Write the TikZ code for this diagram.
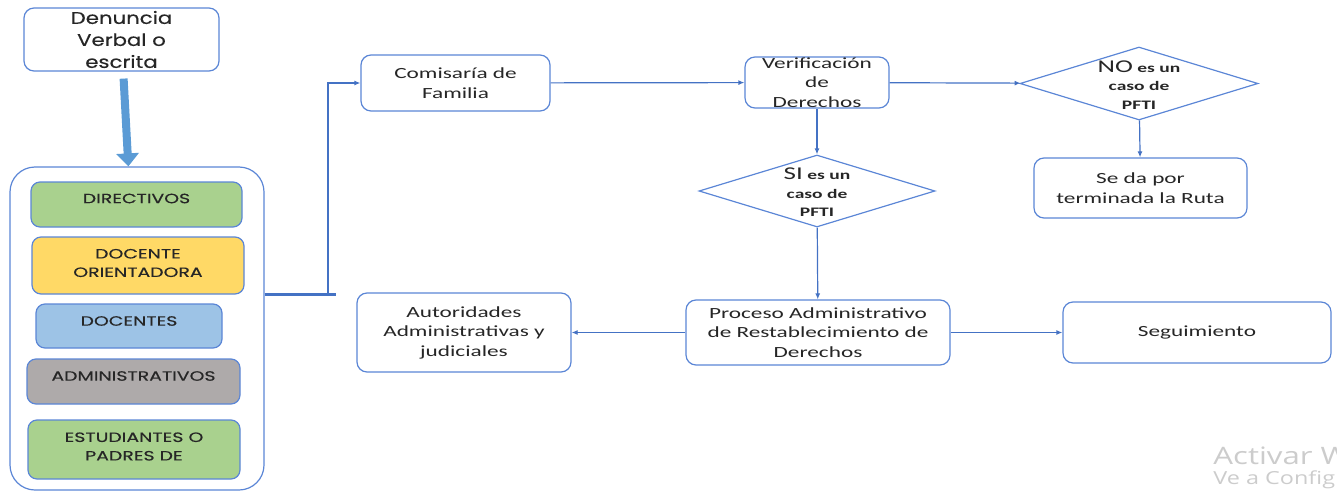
\documentclass[tikz,border=0pt]{standalone}
\usepackage{fontspec}
\setmainfont{Carlito}
\newfontfamily\boxfont[FakeStretch=1.5]{Carlito}
\newfontfamily\gothicfont[FakeStretch=1.4,FakeBold=0.3]{Poppins}
\newfontfamily\denunciafont[FakeStretch=1.25,FakeBold=0.3]{Poppins}
\newfontfamily\markfont[FakeStretch=1.3]{Open Sans}
\usetikzlibrary{shapes.geometric,arrows.meta,positioning}
\definecolor{lineblue}{HTML}{4472C4}
\definecolor{boxblue}{HTML}{5B86D6}
\definecolor{arrowblue}{HTML}{5B9BD5}
\definecolor{dirgreen}{HTML}{A9D18E}
\definecolor{orientyellow}{HTML}{FFD966}
\definecolor{docblue}{HTML}{9DC3E6}
\definecolor{admgray}{HTML}{AEAAAA}

\begin{document}
\begin{tikzpicture}[x=1pt,y=-1pt,->,>={Latex[length=6pt,width=5pt]},thick,
    box node/.style={draw=boxblue,line width=1.2pt,rounded corners=10pt,fill=white,align=center,inner sep=2pt,text=black!85,font=\boxfont\fontsize{15.5}{19.5}\selectfont},
    level node/.style={draw=boxblue,line width=1.2pt,rounded corners=9pt,inner sep=0pt},
    level text/.style={align=center,inner sep=0pt,text=black!85,font=\gothicfont\fontsize{13.5}{18.5}\selectfont},
    choice node/.style={diamond,draw=boxblue,line width=1.2pt,inner sep=0pt},
    choice text/.style={align=center,inner sep=0pt,text=black!85,font=\boxfont\bfseries\fontsize{13}{18.5}\selectfont},
    link/.style={draw=lineblue,line width=1.2pt}]
                \useasboundingbox (0,0) rectangle (1337,492);
                % left column
                \node[box node,minimum width=195pt,minimum height=63pt,font=\denunciafont\fontsize{17}{22}\selectfont] (denuncia) at (121.5,39.5) {Denuncia\\Verbal o\\escrita};
                \node[level node,rounded corners=25pt,minimum width=254pt,minimum height=323pt] (grupo) at (137,328.5) {};
                \node[level node,fill=dirgreen,minimum width=211pt,minimum height=45pt] (directivos) at (136.5,204.5) {};
                \node[level node,fill=orientyellow,minimum width=212pt,minimum height=57pt] (orientadora) at (138,265.5) {};
                \node[level node,fill=docblue,minimum width=186pt,minimum height=44pt] (docentes) at (129,326) {};
                \node[level node,fill=admgray,minimum width=213pt,minimum height=45pt] (administrativos) at (133.5,381.5) {};
                \node[level node,fill=dirgreen,minimum width=212pt,minimum height=59pt] (estudiantes) at (134,449.5) {};
                \node[level text] (directivos text) at ([yshift=6pt]directivos.center) {DIRECTIVOS};
                \node[level text] (orientadora text) at ([yshift=2.5pt]orientadora.center) {DOCENTE\\ORIENTADORA};
                \node[level text] (docentes text) at ([yshift=5pt]docentes.center) {DOCENTES};
                \node[level text] (administrativos text) at ([yshift=5.5pt]administrativos.center) {ADMINISTRATIVOS};
                \node[level text] (estudiantes text) at ([yshift=3pt]estudiantes.center) {ESTUDIANTES O\\PADRES DE};

                % route
                \node[box node,minimum width=189pt,minimum height=56pt] (comisaria) at (455.5,83) {Comisaría de\\Familia};
                \node[box node,minimum width=144pt,minimum height=51pt,inner sep=0pt] (verificacion) at (817,82.5) {Verificación\\de\\Derechos};
                \node[choice node,minimum width=238pt,minimum height=73pt] (no caso) at (1139,83.5) {};
                \node[choice text] (no text) at ([yshift=-1.5pt]no caso.center) {{\mdseries\fontsize{18}{18.5}\selectfont NO} es un\\caso de\\PFTI};
                \node[box node,minimum width=213pt,minimum height=60pt] (termina) at (1140.5,188) {Se da por\\terminada la Ruta};
                \node[choice node,minimum width=236pt,minimum height=72pt] (si caso) at (817,191) {};
                \node[choice text] (si text) at ([yshift=-1.5pt]si caso.center) {{\mdseries\fontsize{18}{18.5}\selectfont SI} es un\\caso de\\PFTI};
                \node[box node,minimum width=264pt,minimum height=65pt] (proceso) at (818,332.5) {Proceso Administrativo\\de Restablecimiento de\\Derechos};
                \node[box node,minimum width=214pt,minimum height=79pt] (autoridades) at (464,332.5) {Autoridades\\Administrativas y\\judiciales};
                \node[box node,minimum width=268pt,minimum height=61pt] (seguimiento) at (1197,332.5) {Seguimiento};

                \coordinate (bend) at (328,294);
                \draw[-{Triangle[width=22pt,length=13pt]},draw=arrowblue,fill=arrowblue,line width=8pt,shorten <=7pt] (denuncia) -- (grupo);
                \draw[-,draw=lineblue,line width=3pt] (grupo.east |- bend) -- ([xshift=8pt]bend);
                \draw[link] (bend) |- (comisaria.west);

                \path[link]
                    (comisaria) edge (verificacion)
                    (verificacion) edge (no caso)
                    (no caso) edge (termina)
                    (verificacion) edge (si caso)
                    (si caso) edge (proceso)
                    (proceso) edge (autoridades)
                    (proceso) edge (seguimiento)
                ;

                \node[anchor=base west,inner sep=0pt,text=black!20,font=\markfont\fontsize{24}{26}\selectfont] (activar) at (1213,464) {Activar W};
                \node[anchor=base west,inner sep=0pt,text=black!20,font=\markfont\fontsize{18}{20}\selectfont] (config) at (1213,484) {Ve a Config};
            \end{tikzpicture}
\end{document}
